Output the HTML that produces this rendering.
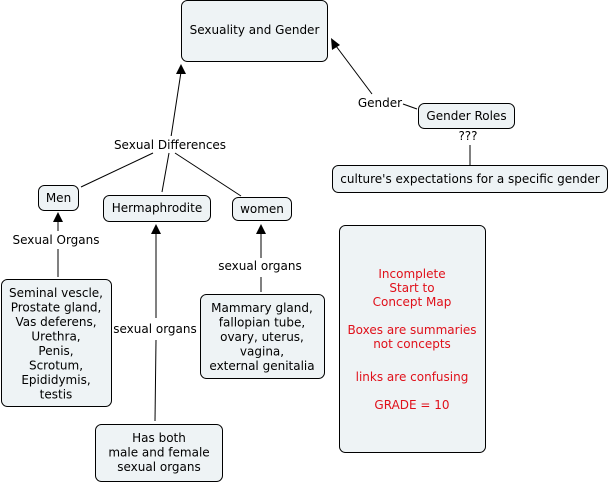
<!DOCTYPE html>
<html><head><style>
html,body{margin:0;padding:0;background:#fff;width:609px;height:483px;overflow:hidden}
svg{display:block}
text{font-family:"DejaVu Sans","Liberation Sans",sans-serif;font-size:12px;fill:#000}
.r{fill:#e8041c;fill:#e0101a}
rect{fill:#eef3f5;stroke:#000;stroke-width:1}
line{stroke:#000;stroke-width:1}
</style></head><body>
<svg width="609" height="483" viewBox="0 0 609 483">
<!-- connectors -->
<line x1="171" y1="137" x2="181" y2="72"/>
<polygon points="181,64 176,74 186,74" fill="#000"/>
<line x1="81" y1="187" x2="153" y2="153"/>
<line x1="162" y1="192" x2="169" y2="153"/>
<line x1="175" y1="153" x2="241" y2="196"/>
<line x1="372" y1="94" x2="336" y2="46"/>
<polygon points="331,38 332,50 340,45" fill="#000"/>
<line x1="403" y1="104" x2="417" y2="109"/>
<line x1="470" y1="145" x2="470" y2="165"/>
<line x1="58" y1="277" x2="58" y2="249"/>
<line x1="58" y1="231" x2="58" y2="221"/>
<polygon points="58,212 53,222 63,222" fill="#000"/>
<line x1="155" y1="421" x2="156" y2="340"/>
<line x1="156" y1="318" x2="156" y2="232"/>
<polygon points="156,224 151,234 161,234" fill="#000"/>
<line x1="261" y1="292" x2="261" y2="277"/>
<line x1="261" y1="258" x2="261" y2="233"/>
<polygon points="261,224 256,234 266,234" fill="#000"/>
<!-- nodes -->
<rect x="181.5" y="0.5" width="146" height="61" rx="6"/>
<text x="254.5" y="34" text-anchor="middle">Sexuality and Gender</text>
<rect x="418.5" y="103.5" width="96" height="25" rx="6"/>
<text x="466.5" y="120" text-anchor="middle">Gender Roles</text>
<rect x="332.5" y="165.5" width="275" height="27" rx="6"/>
<text x="470" y="183" text-anchor="middle">culture's expectations for a specific gender</text>
<rect x="38.5" y="185.5" width="40" height="25" rx="6"/>
<text x="58.5" y="202" text-anchor="middle">Men</text>
<rect x="103.5" y="195.5" width="107" height="26" rx="6"/>
<text x="157" y="212" text-anchor="middle">Hermaphrodite</text>
<rect x="232.5" y="197.5" width="59" height="23" rx="6"/>
<text x="262" y="213" text-anchor="middle">women</text>
<rect x="1.5" y="279.5" width="110" height="127" rx="6"/>
<g text-anchor="middle">
<text x="56" y="297">Seminal vescle,</text>
<text x="56" y="311.5">Prostate gland,</text>
<text x="56" y="326">Vas deferens,</text>
<text x="56" y="340.5">Urethra,</text>
<text x="56" y="355">Penis,</text>
<text x="56" y="369.5">Scrotum,</text>
<text x="56" y="384">Epididymis,</text>
<text x="56" y="398.5">testis</text>
</g>
<rect x="200.5" y="294.5" width="124" height="84" rx="6"/>
<g text-anchor="middle">
<text x="262" y="312">Mammary gland,</text>
<text x="262" y="326.5">fallopian tube,</text>
<text x="262" y="341">ovary, uterus,</text>
<text x="262" y="355.5">vagina,</text>
<text x="262" y="370">external genitalia</text>
</g>
<rect x="95.5" y="424.5" width="127" height="57" rx="6"/>
<g text-anchor="middle">
<text x="159" y="442">Has both</text>
<text x="159" y="456.5">male and female</text>
<text x="159" y="471">sexual organs</text>
</g>
<rect x="339.5" y="225.5" width="146" height="227" rx="6"/>
<g text-anchor="middle" class="r">
<text class="r" x="412" y="278">Incomplete</text>
<text class="r" x="412" y="292">Start to</text>
<text class="r" x="412" y="306">Concept Map</text>
<text class="r" x="412" y="334">Boxes are summaries</text>
<text class="r" x="412" y="348">not concepts</text>
<text class="r" x="412" y="381">links are confusing</text>
<text class="r" x="412" y="409">GRADE = 10</text>
</g>
<!-- link labels -->
<rect x="112" y="136" width="116" height="16" style="fill:#fff;stroke:none"/>
<text x="170" y="149" text-anchor="middle">Sexual Differences</text>
<text x="380" y="107" text-anchor="middle">Gender</text>
<text x="468" y="140" text-anchor="middle">???</text>
<text x="56" y="244" text-anchor="middle">Sexual Organs</text>
<text x="155" y="333" text-anchor="middle">sexual organs</text>
<text x="260" y="270" text-anchor="middle">sexual organs</text>
</svg>
</body></html>
